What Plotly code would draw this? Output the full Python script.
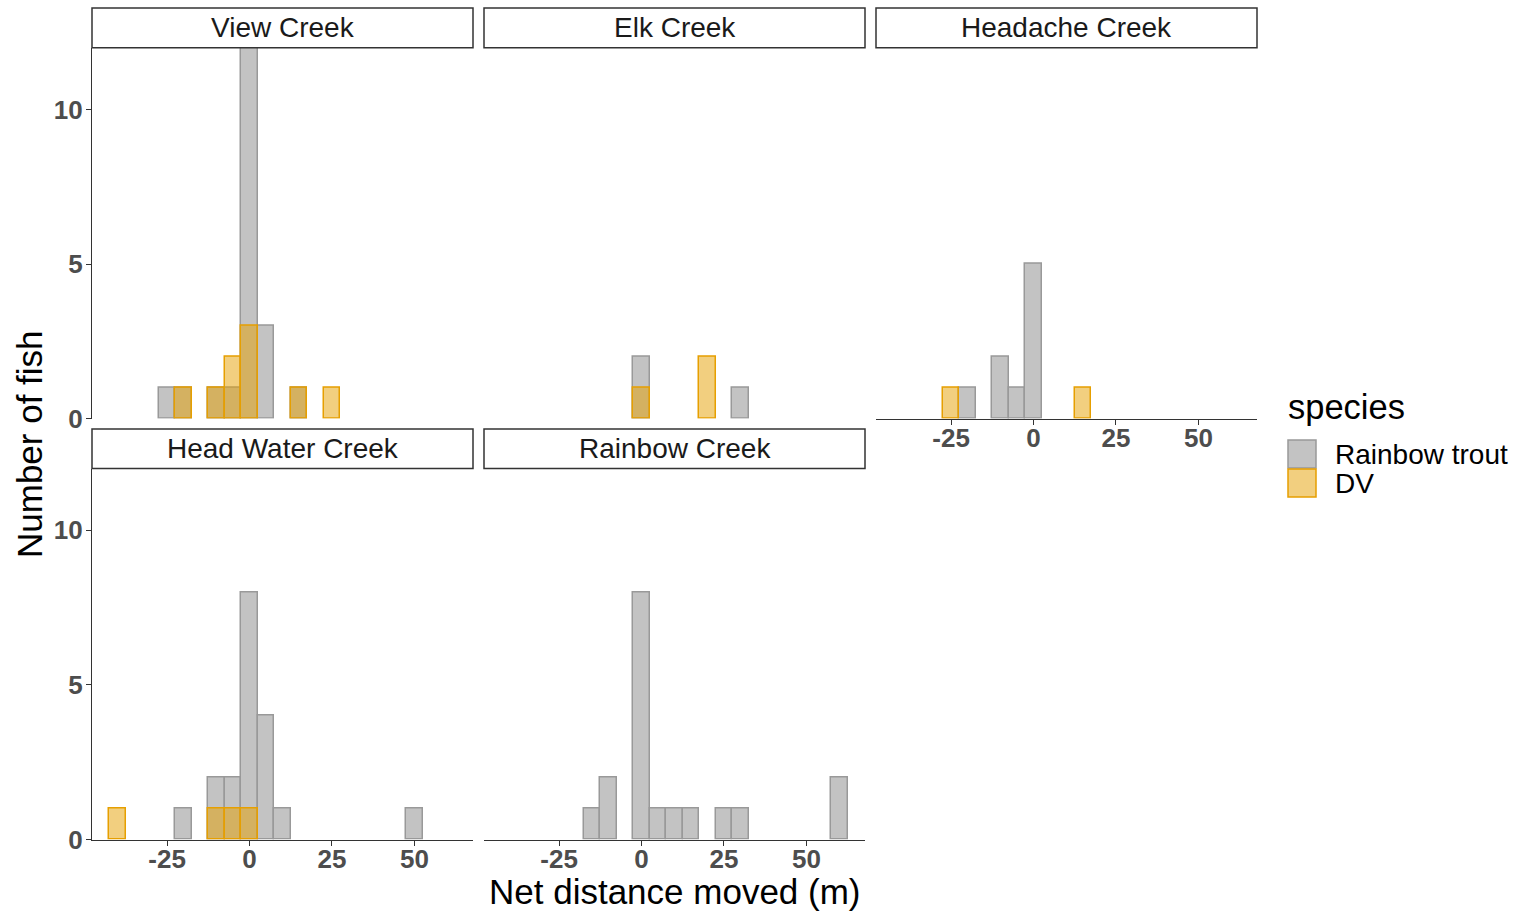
import plotly.graph_objects as go

# ---------------- data (bin centres, bin width 5 m) ----------------
creeks = ["View Creek", "Elk Creek", "Headache Creek", "Head Water Creek", "Rainbow Creek"]
species = ["Rainbow trout", "DV"]

view_rt_x = [-25, -20, -10, -5, 0, 5, 15]
view_rt_n = [1, 1, 1, 1, 12, 3, 1]
view_dv_x = [-20, -10, -5, 0, 15, 25]
view_dv_n = [1, 1, 2, 3, 1, 1]

elk_rt_x = [0, 30]
elk_rt_n = [2, 1]
elk_dv_x = [0, 20]
elk_dv_n = [1, 2]

headache_rt_x = [-20, -10, -5, 0]
headache_rt_n = [1, 2, 1, 5]
headache_dv_x = [-25, 15]
headache_dv_n = [1, 1]

headwater_rt_x = [-20, -10, -5, 0, 5, 10, 50]
headwater_rt_n = [1, 2, 2, 8, 4, 1, 1]
headwater_dv_x = [-40, -10, -5, 0]
headwater_dv_n = [1, 1, 1, 1]

rainbow_rt_x = [-15, -10, 0, 5, 10, 15, 25, 30, 60]
rainbow_rt_n = [1, 2, 8, 1, 1, 1, 1, 1, 2]
rainbow_dv_x = []
rainbow_dv_n = []

bin_width = 5
x_ticks = [-25, 0, 25, 50]
y_ticks = [0, 5, 10]
x_range = [-47.75, 67.75]
y_range = [0, 12]

series = [
    (view_rt_x, view_rt_n, view_dv_x, view_dv_n),
    (elk_rt_x, elk_rt_n, elk_dv_x, elk_dv_n),
    (headache_rt_x, headache_rt_n, headache_dv_x, headache_dv_n),
    (headwater_rt_x, headwater_rt_n, headwater_dv_x, headwater_dv_n),
    (rainbow_rt_x, rainbow_rt_n, rainbow_dv_x, rainbow_dv_n),
]

# ---------------- styling ----------------
W, H = 1514, 913
FONT = "Liberation Sans, Arial, Helvetica, sans-serif"
fill_cols = ["rgba(136,136,136,0.5)", "rgba(230,159,0,0.5)"]
line_cols = ["#999999", "#E69F00"]


def fx(px):
    return px / W


def fy(py):
    return 1 - py / H


col_px = [(92, 473), (484, 865), (876, 1257)]
row_px = [(47.7, 418.5), (468.5, 839.5)]
strip_px = [(8, 47.7), (429, 468.5)]
positions = [(0, 0), (0, 1), (0, 2), (1, 0), (1, 1)]
show_x = [False, False, True, True, True]
show_y = [True, False, False, True, False]

fig = go.Figure()
shapes = []
annotations = []
layout = {}

for i, (name, (rx, rn, dx, dn)) in enumerate(zip(creeks, series)):
    r, c = positions[i]
    ax = "" if i == 0 else str(i + 1)
    xa, ya = "x" + ax, "y" + ax
    for s, (bx, bn) in enumerate([(rx, rn), (dx, dn)]):
        if len(bx) == 0:
            continue
        fig.add_trace(go.Bar(
            x=bx, y=bn, width=bin_width, xaxis=xa, yaxis=ya,
            name=species[s], showlegend=False,
            marker=dict(color=fill_cols[s], line=dict(color=line_cols[s], width=1.5)),
        ))
    x0, x1 = col_px[c]
    y0, y1 = row_px[r]
    layout["xaxis" + ax] = dict(
        domain=[fx(x0), fx(x1)], range=x_range, anchor=ya, automargin=False,
        showgrid=False, zeroline=False,
        showline=show_x[i], linecolor="#333333", linewidth=1.3,
        ticks="outside" if show_x[i] else "", ticklen=5, tickcolor="#333333", tickwidth=1.2,
        showticklabels=show_x[i], tickvals=x_ticks, ticktext=[str(v) for v in x_ticks],
        ticklabelstandoff=-9,
        tickfont=dict(family=FONT, size=26, color="#4d4d4d", weight="bold"),
        fixedrange=True,
    )
    layout["yaxis" + ax] = dict(
        domain=[fy(y1), fy(y0)], range=y_range, anchor=xa, automargin=False,
        showgrid=False, zeroline=False,
        showline=show_y[i], linecolor="#333333", linewidth=1.3,
        ticks="outside" if show_y[i] else "", ticklen=5, tickcolor="#333333", tickwidth=1.2,
        showticklabels=show_y[i], tickvals=y_ticks, ticktext=[str(v) for v in y_ticks],
        ticklabelstandoff=-2,
        tickfont=dict(family=FONT, size=26, color="#4d4d4d", weight="bold"),
        fixedrange=True,
    )
    s0, s1 = strip_px[r]
    shapes.append(dict(type="rect", xref="paper", yref="paper",
                       x0=fx(x0), x1=fx(x1), y0=fy(s1), y1=fy(s0),
                       line=dict(color="#333333", width=1.5), fillcolor="white", layer="above"))
    annotations.append(dict(text=name, xref="paper", yref="paper",
                            x=fx((x0 + x1) / 2), y=fy((s0 + s1) / 2),
                            xanchor="center", yanchor="middle", showarrow=False,
                            font=dict(family=FONT, size=28, color="#1a1a1a")))

annotations.append(dict(text="Net distance moved (m)", xref="paper", yref="paper",
                        x=fx(674.5), y=fy(891), xanchor="center", yanchor="middle",
                        showarrow=False, font=dict(family=FONT, size=35, color="black")))
annotations.append(dict(text="Number of fish", xref="paper", yref="paper",
                        x=fx(29), y=fy(444), xanchor="center", yanchor="middle", textangle=-90,
                        showarrow=False, font=dict(family=FONT, size=35, color="black")))

annotations.append(dict(text="species", xref="paper", yref="paper",
                        x=fx(1286), y=fy(407), xanchor="left", yanchor="middle",
                        showarrow=False, font=dict(family=FONT, size=34.5, color="black")))
key_y = [(440, 468), (469, 497)]
for s in range(2):
    k0, k1 = key_y[s]
    shapes.append(dict(type="rect", xref="paper", yref="paper",
                       x0=fx(1288), x1=fx(1316), y0=fy(k1), y1=fy(k0),
                       line=dict(color=line_cols[s], width=1.5), fillcolor=fill_cols[s]))
    annotations.append(dict(text=species[s], xref="paper", yref="paper",
                            x=fx(1333), y=fy((k0 + k1) / 2), xanchor="left", yanchor="middle",
                            showarrow=False, font=dict(family=FONT, size=28, color="black")))

fig.update_layout(
    width=W, height=H, margin=dict(l=0, r=0, t=0, b=0, pad=0, autoexpand=False),
    paper_bgcolor="white", plot_bgcolor="white",
    barmode="overlay", bargap=0, showlegend=False,
    shapes=shapes, annotations=annotations,
    font=dict(family=FONT),
    **layout,
)

fig.write_html("out.html")
